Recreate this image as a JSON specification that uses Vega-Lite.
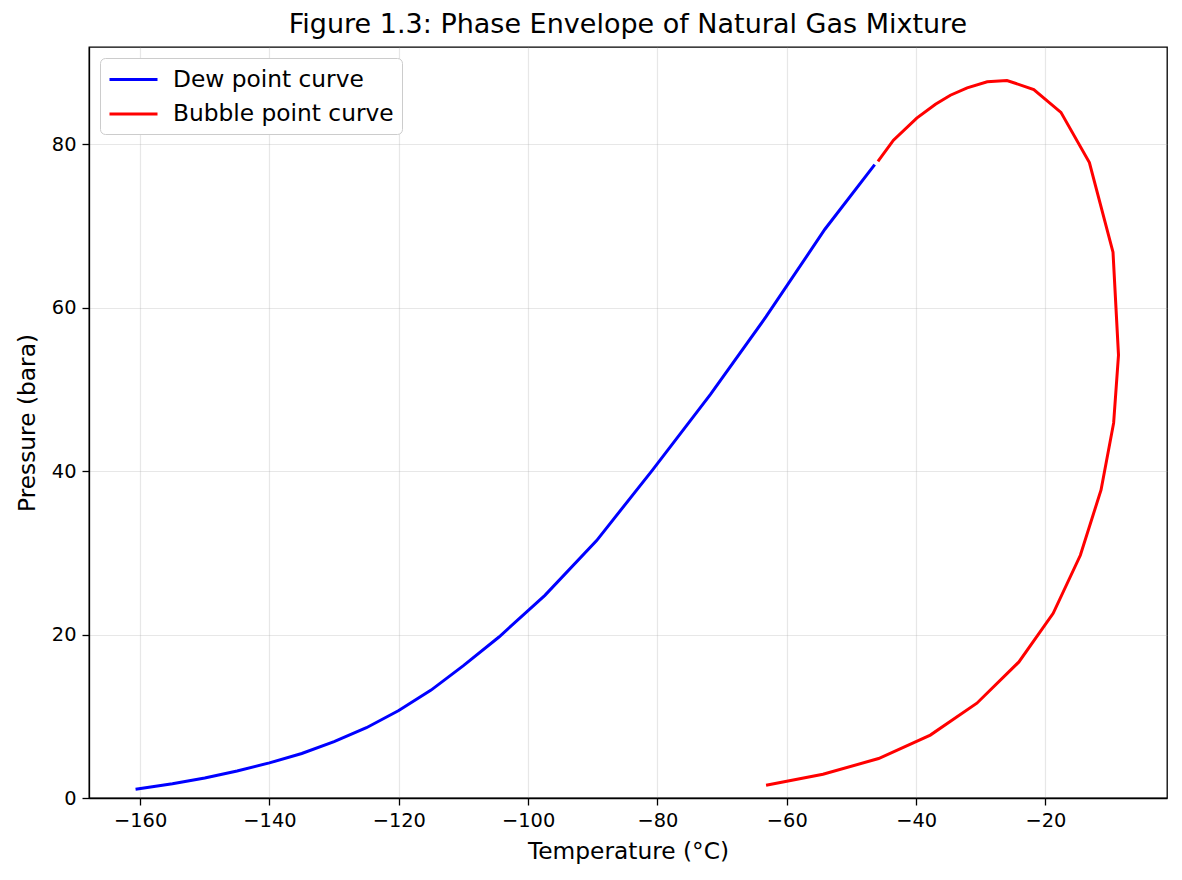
{
  "$schema": "https://vega.github.io/schema/vega-lite/v6.json",
  "autosize": "none",
  "padding": {"left": 89, "top": 47, "right": 15, "bottom": 82},
  "width": 1078,
  "height": 751,
  "background": "white",
  "config": {
    "font": "DejaVu Sans",
    "view": {"stroke": "black", "strokeWidth": 1.3},
    "axis": {
      "domainColor": "black",
      "domainWidth": 1.3,
      "tickColor": "black",
      "tickWidth": 1.3,
      "tickSize": 7,
      "labelPadding": 6,
      "labelFontSize": 19.4,
      "labelColor": "black",
      "labelFont": "DejaVu Sans",
      "titleFont": "DejaVu Sans",
      "titleFontSize": 23.3,
      "titleFontWeight": "normal",
      "titleColor": "black",
      "gridColor": "#b0b0b0",
      "gridOpacity": 0.3,
      "gridWidth": 1.2
    }
  },
  "title": {
    "text": "Figure 1.3: Phase Envelope of Natural Gas Mixture",
    "font": "DejaVu Sans",
    "fontSize": 27,
    "fontWeight": "normal",
    "color": "black",
    "anchor": "middle",
    "offset": 8
  },
  "data": {
    "values": [
      {"curve": "Dew point curve", "i": 1, "T": -160.7, "P": 1.07},
      {"curve": "Dew point curve", "i": 2, "T": -155, "P": 1.75},
      {"curve": "Dew point curve", "i": 3, "T": -150, "P": 2.45},
      {"curve": "Dew point curve", "i": 4, "T": -145, "P": 3.3},
      {"curve": "Dew point curve", "i": 5, "T": -140, "P": 4.3},
      {"curve": "Dew point curve", "i": 6, "T": -135, "P": 5.45},
      {"curve": "Dew point curve", "i": 7, "T": -130, "P": 6.9},
      {"curve": "Dew point curve", "i": 8, "T": -125, "P": 8.6},
      {"curve": "Dew point curve", "i": 9, "T": -120, "P": 10.7},
      {"curve": "Dew point curve", "i": 10, "T": -115, "P": 13.2},
      {"curve": "Dew point curve", "i": 11, "T": -110, "P": 16.2},
      {"curve": "Dew point curve", "i": 12, "T": -104.5, "P": 19.7},
      {"curve": "Dew point curve", "i": 13, "T": -97.4, "P": 24.8},
      {"curve": "Dew point curve", "i": 14, "T": -89.4, "P": 31.5},
      {"curve": "Dew point curve", "i": 15, "T": -80.8, "P": 40.1},
      {"curve": "Dew point curve", "i": 16, "T": -71.8, "P": 49.4},
      {"curve": "Dew point curve", "i": 17, "T": -63.2, "P": 58.9},
      {"curve": "Dew point curve", "i": 18, "T": -54.1, "P": 69.6},
      {"curve": "Dew point curve", "i": 19, "T": -46.4, "P": 77.5},
      {"curve": "Bubble point curve", "i": 1, "T": -45.9, "P": 77.9},
      {"curve": "Bubble point curve", "i": 2, "T": -43.5, "P": 80.5},
      {"curve": "Bubble point curve", "i": 3, "T": -39.9, "P": 83.2},
      {"curve": "Bubble point curve", "i": 4, "T": -37.0, "P": 84.9},
      {"curve": "Bubble point curve", "i": 5, "T": -34.7, "P": 86.0},
      {"curve": "Bubble point curve", "i": 6, "T": -32.1, "P": 86.9},
      {"curve": "Bubble point curve", "i": 7, "T": -29.0, "P": 87.65},
      {"curve": "Bubble point curve", "i": 8, "T": -25.95, "P": 87.8},
      {"curve": "Bubble point curve", "i": 9, "T": -21.8, "P": 86.7},
      {"curve": "Bubble point curve", "i": 10, "T": -17.6, "P": 83.9},
      {"curve": "Bubble point curve", "i": 11, "T": -13.2, "P": 77.75},
      {"curve": "Bubble point curve", "i": 12, "T": -9.55, "P": 66.8},
      {"curve": "Bubble point curve", "i": 13, "T": -8.7, "P": 54.2},
      {"curve": "Bubble point curve", "i": 14, "T": -9.45, "P": 45.9},
      {"curve": "Bubble point curve", "i": 15, "T": -11.4, "P": 37.7},
      {"curve": "Bubble point curve", "i": 16, "T": -14.6, "P": 29.7},
      {"curve": "Bubble point curve", "i": 17, "T": -18.8, "P": 22.6},
      {"curve": "Bubble point curve", "i": 18, "T": -24.1, "P": 16.65},
      {"curve": "Bubble point curve", "i": 19, "T": -30.6, "P": 11.6},
      {"curve": "Bubble point curve", "i": 20, "T": -37.8, "P": 7.7},
      {"curve": "Bubble point curve", "i": 21, "T": -45.8, "P": 4.83},
      {"curve": "Bubble point curve", "i": 22, "T": -54.4, "P": 2.9},
      {"curve": "Bubble point curve", "i": 23, "T": -63.2, "P": 1.56}
    ]
  },
  "mark": {"type": "line", "strokeWidth": 3, "clip": true},
  "encoding": {
    "x": {
      "field": "T",
      "type": "quantitative",
      "scale": {"domain": [-167.9, -1.2], "nice": false, "zero": false},
      "axis": {"values": [-160, -140, -120, -100, -80, -60, -40, -20], "title": "Temperature (°C)", "titlePadding": 11, "labelFlush": false}
    },
    "y": {
      "field": "P",
      "type": "quantitative",
      "scale": {"domain": [0, 91.9], "nice": false, "zero": false},
      "axis": {"values": [0, 20, 40, 60, 80], "title": "Pressure (bara)", "titlePadding": 12, "labelFlush": false}
    },
    "order": {"field": "i", "type": "quantitative"},
    "color": {
      "field": "curve",
      "type": "nominal",
      "scale": {"domain": ["Dew point curve", "Bubble point curve"], "range": ["#0000ff", "#ff0000"]},
      "legend": {
        "title": null,
        "orient": "top-left",
        "offset": 11,
        "symbolType": "M-1,0H3",
        "symbolSize": 576,
        "symbolStrokeWidth": 3,
        "symbolFillColor": "transparent",
        "labelFontSize": 23.3,
        "labelFont": "DejaVu Sans",
        "labelColor": "black",
        "labelLimit": 500,
        "labelOffset": 38,
        "rowPadding": 9.6,
        "padding": 8,
        "fillColor": "white",
        "strokeColor": "#cccccc",
        "cornerRadius": 5
      }
    }
  }
}
